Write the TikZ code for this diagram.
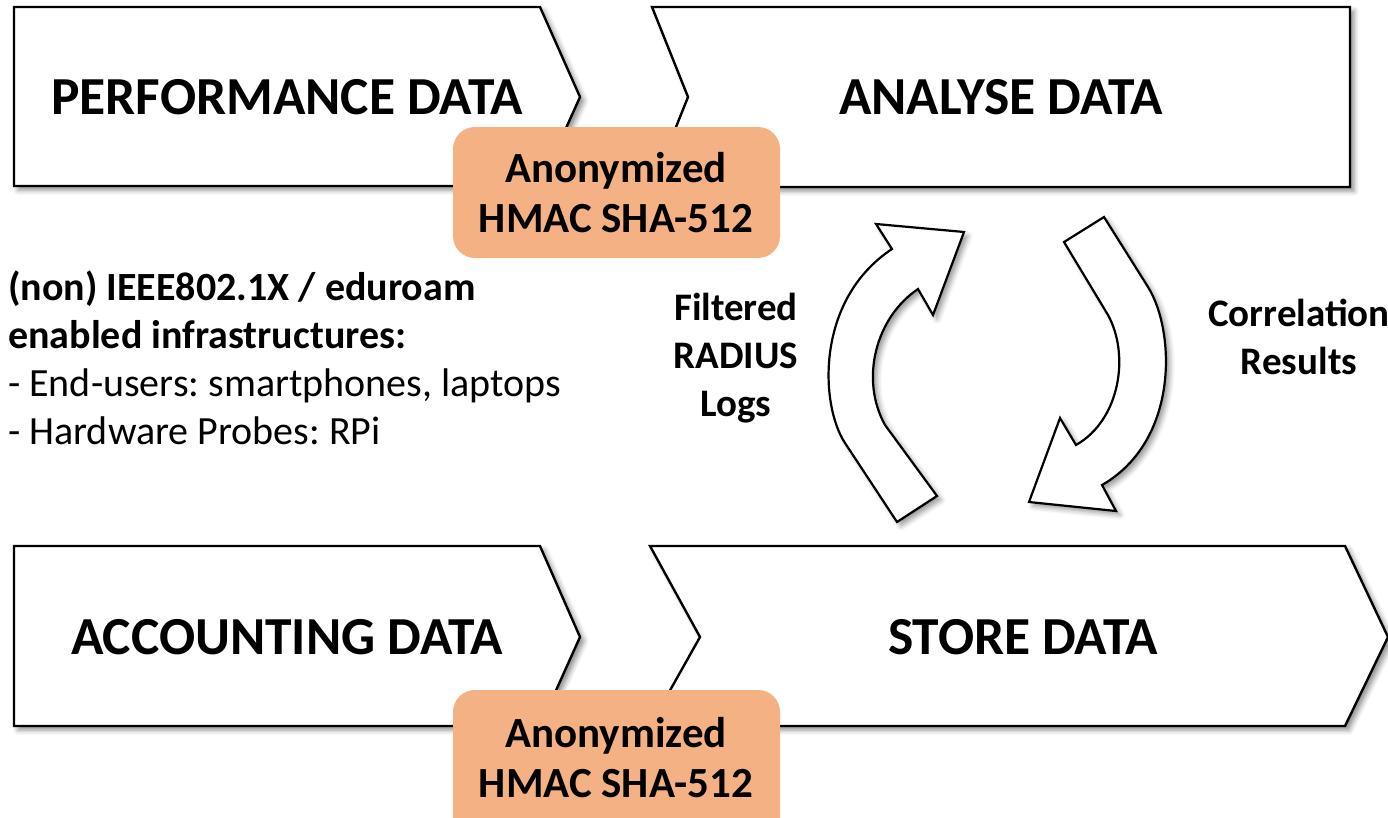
\documentclass[tikz,border=0pt]{standalone}
\usepackage{fontspec}
\setmainfont{Carlito}
\usetikzlibrary{shadows.blur}
\definecolor{anonfill}{RGB}{244,177,131}
\frenchspacing
\tikzset{
  stage/.style={draw=black, line width=2.4pt, fill=white, line join=miter,
    blur shadow={shadow xshift=4pt, shadow yshift=-4pt, shadow blur radius=5pt, shadow opacity=45}},
  cyclearrow/.style={draw=black, line width=2.2pt, fill=white, line join=miter,
    blur shadow={shadow xshift=4pt, shadow yshift=-4pt, shadow blur radius=5pt, shadow opacity=40}},
  anonbox/.style={fill=anonfill, rounded corners=22pt},
  biglabel/.style={inner sep=0pt, font=\fontsize{53.5}{65}\selectfont\bfseries},
  anonlabel/.style={inner sep=0pt, align=center, font=\fontsize{43}{50}\selectfont\bfseries},
  sidelabel/.style={inner sep=0pt, align=center, font=\fontsize{39}{48}\selectfont\bfseries},
  infobold/.style={inner sep=0pt, anchor=base west, font=\fontsize{40}{48}\selectfont\bfseries},
  inforeg/.style={inner sep=0pt, anchor=base west, font=\fontsize{40}{48}\selectfont},
}
\begin{document}
\begin{tikzpicture}[x=1pt, y=-1pt]
\useasboundingbox (0,0) rectangle (1388,817);
% chevrons
\path[stage] (14,7) -- (540,7) -- (580,97) -- (540,186) -- (14,186) -- cycle;
\path[stage] (652,7) -- (1350,7) -- (1350,187) -- (652,187) -- (688,97) -- cycle;
\path[stage] (14,546) -- (540,546) -- (580,637) -- (540,726) -- (14,726) -- cycle;
\path[stage] (650,546) -- (1345,546) -- (1388,637) -- (1345,726) -- (650,726) -- (700,637) -- cycle;
% labels
\node[biglabel] (perf) at (287,97) {PERFORMANCE DATA};
\node[biglabel] (analyse) at (1001,97) {ANALYSE DATA};
\node[biglabel] (acct) at (287,637) {ACCOUNTING DATA};
\node[biglabel] (store) at (1023,637) {STORE DATA};
% anonymized boxes
\path[anonbox] (453,127) rectangle (780,258);
\path[anonbox] (453,690) rectangle (780,840);
\node[anonlabel] (anon1) at (616,193) {Anonymized\\HMAC SHA-512};
\node[anonlabel] (anon2) at (616,758) {Anonymized\\HMAC SHA-512};
% cycle arrows
\path[cyclearrow] (897,522) -- (845,443) .. controls (820,405) and (815,300) .. (892,249)
  -- (876,224) -- (964,232) -- (933,315) -- (918,289)
  .. controls (875,318) and (860,380) .. (885,425) -- (937,496) -- cycle;
\path[cyclearrow] (1064,242) -- (1104,217) -- (1148,287)
  .. controls (1175,330) and (1180,440) .. (1102,485)
  -- (1116,511) -- (1029,502) -- (1060,418) -- (1076,445)
  .. controls (1120,420) and (1130,355) .. (1108,315) -- cycle;
% side texts
\node[sidelabel] (filtered) at (736,358) {Filtered\\RADIUS\\Logs};
\node[sidelabel] (corr) at (1299,337) {Correlation\\Results};
% info text
\node[infobold] (info1) at (8,300) {(non) IEEE802.1X / eduroam};
\node[infobold] (info2) at (8,348) {enabled infrastructures:};
\node[inforeg] (info3) at (8,396) {- End-users: smartphones, laptops};
\node[inforeg] (info4) at (8,444) {- Hardware Probes: RPi};
\end{tikzpicture}
\end{document}
